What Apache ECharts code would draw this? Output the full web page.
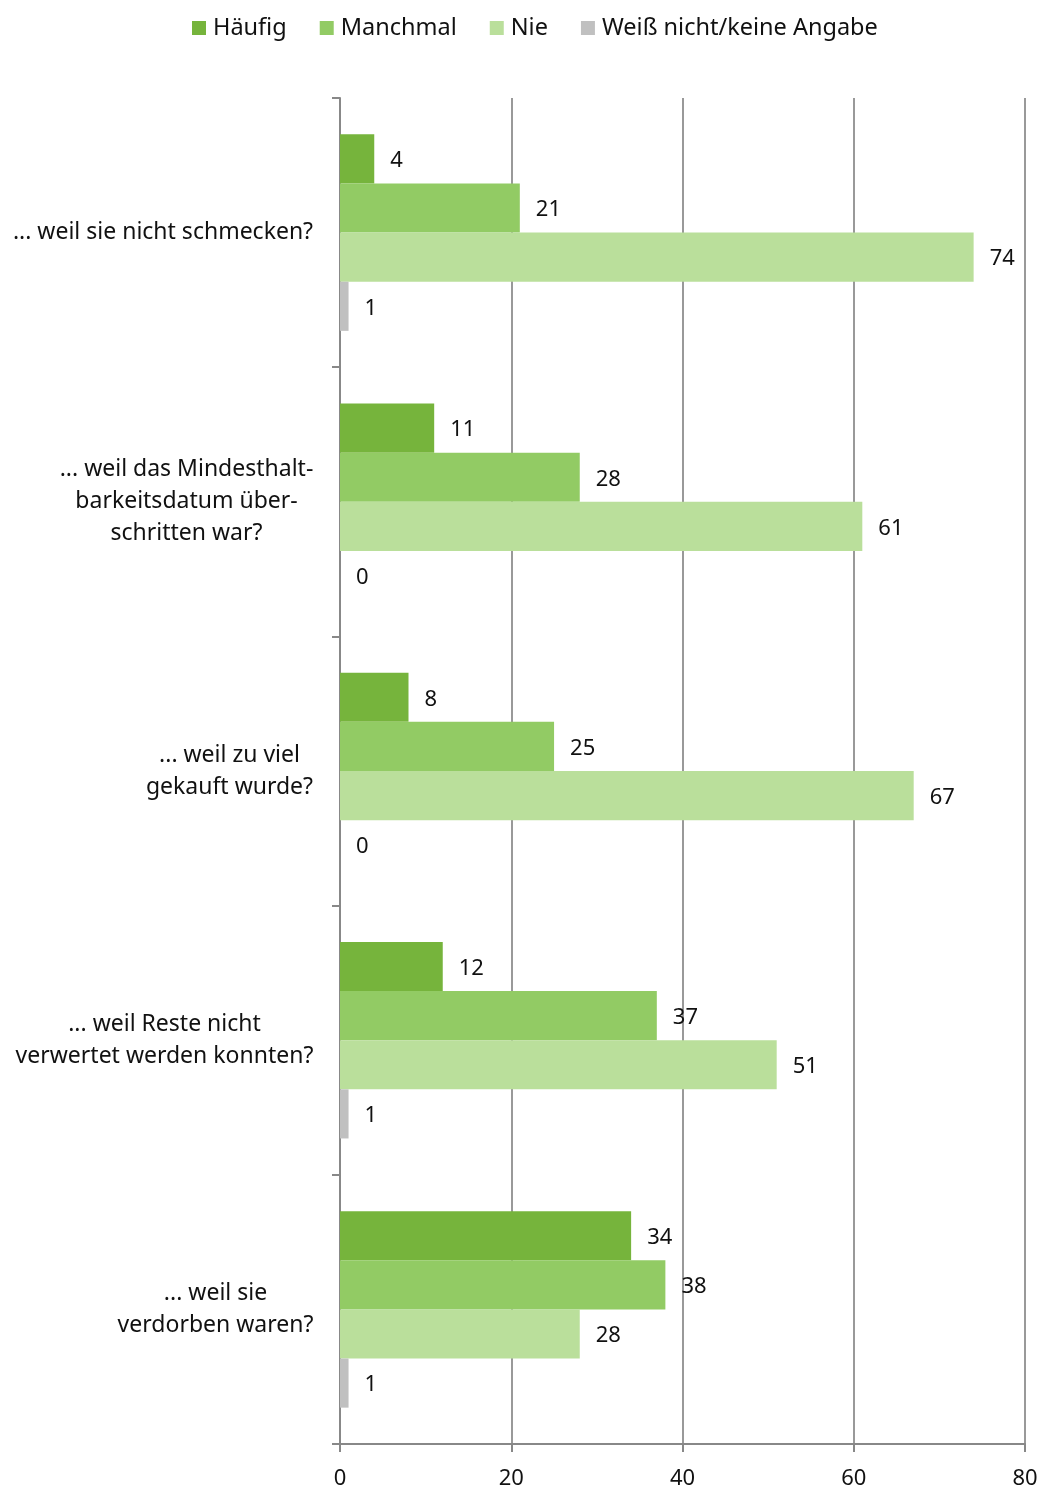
<!DOCTYPE html>
<html>
<head>
<meta charset="utf-8">
<script src="https://cdn.jsdelivr.net/npm/echarts@6/dist/echarts.min.js"></script>
<style>
html,body{margin:0;padding:0;background:#fff;}
#chart{width:1042px;height:1490px;}
</style>
</head>
<body>
<div id="chart"></div>
<script>
const categories = [
  "... weil sie nicht schmecken?",
  "... weil das Mindesthalt-\nbarkeitsdatum über-\nschritten war?",
  "... weil zu viel\ngekauft wurde?",
  "... weil Reste nicht\nverwertet werden konnten?",
  "... weil sie\nverdorben waren?"
];
const seriesNames = ["Häufig", "Manchmal", "Nie", "Weiß nicht/keine Angabe"];
const haeufig = [4, 11, 8, 12, 34];
const manchmal = [21, 28, 25, 37, 38];
const nie = [74, 61, 67, 51, 28];
const weissNicht = [1, 0, 0, 1, 1];
const xTicks = { min: 0, max: 80, interval: 20 };

const colors = ["#76b43c", "#92cb64", "#badf9b", "#c0c0c0"];
const values = [haeufig, manchmal, nie, weissNicht];
const FONT = "Noto Sans";
const CAT_SIZE = 23;

// measure each category block so its lines can be centred inside a right-aligned block
const ctx = document.createElement('canvas').getContext('2d');
ctx.font = CAT_SIZE + 'px "' + FONT + '"';
const rich = {};
categories.forEach((c, i) => {
  const w = Math.max(...c.split('\n').map(l => ctx.measureText(l).width));
  rich['c' + i] = { width: Math.ceil(w) + 1, align: 'center', fontSize: CAT_SIZE, lineHeight: 32, color: '#111', fontFamily: FONT };
});

const chart = echarts.init(document.getElementById('chart'));
chart.setOption({
  animation: false,
  textStyle: { fontFamily: FONT },
  color: colors,
  legend: {
    top: 11,
    left: 187,
    itemWidth: 14,
    itemHeight: 14,
    itemGap: 33,
    icon: 'rect',
    textStyle: { fontSize: 23.5, color: '#111', fontFamily: FONT, padding: [0, 0, 0, 2] },
    data: seriesNames
  },
  grid: { left: 340, right: 17, top: 98, bottom: 46, containLabel: false },
  xAxis: {
    type: 'value',
    min: xTicks.min, max: xTicks.max, interval: xTicks.interval,
    axisLine: { show: true, lineStyle: { color: '#888', width: 2 } },
    axisTick: { show: true, length: 8, lineStyle: { color: '#888', width: 2 } },
    axisLabel: { fontSize: 22, color: '#111', margin: 24, fontFamily: FONT },
    splitLine: { show: true, lineStyle: { color: '#999', width: 2 } }
  },
  yAxis: {
    type: 'category',
    inverse: true,
    data: categories,
    axisLine: { show: true, lineStyle: { color: '#888', width: 2 } },
    axisTick: { show: true, length: 8, lineStyle: { color: '#888', width: 2 } },
    axisLabel: {
      fontSize: CAT_SIZE, color: '#111', margin: 26, lineHeight: 32, align: 'right', fontFamily: FONT,
      formatter: (v) => {
        const i = categories.indexOf(v);
        return v.split('\n').map(l => '{c' + i + '|' + l + '}').join('\n');
      },
      rich: rich
    }
  },
  series: seriesNames.map((n, i) => ({
    name: n,
    type: 'bar',
    data: values[i],
    barGap: '0%',
    barCategoryGap: '27%',
    itemStyle: { color: colors[i] },
    label: {
      show: true,
      position: 'right',
      distance: 16,
      offset: [0, 2],
      fontSize: 22,
      color: '#111',
      fontFamily: FONT
    }
  }))
});
</script>
</body>
</html>
